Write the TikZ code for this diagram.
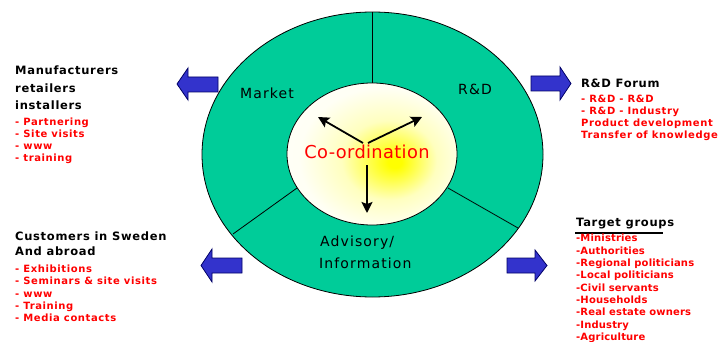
\documentclass[tikz,border=0pt]{standalone}
\usepackage{fontspec}
\usetikzlibrary{arrows.meta}
\newfontfamily\fHead[LetterSpace=6]{DejaVu Sans}
\newfontfamily\fList[LetterSpace=6]{DejaVu Sans}
\newfontfamily\fTarget[LetterSpace=1.5]{DejaVu Sans}
\newfontfamily\fLabel[LetterSpace=8]{DejaVu Sans}
\newfontfamily\fCoord[LetterSpace=2]{DejaVu Sans}
\definecolor{ringgreen}{HTML}{00CC99}
\definecolor{arrowblue}{HTML}{3333CC}
\definecolor{arrowedge}{HTML}{000066}
\pgfdeclareradialshading{coordshade}{\pgfpoint{7bp}{-3bp}}{color(0bp)=(yellow); color(2bp)=(yellow); color(14bp)=(yellow!25!white); color(25bp)=(yellow!4!white); color(50bp)=(white)}
\begin{document}
\begin{tikzpicture}[x=1pt,y=-1pt,
  blk/.style={fill=arrowblue, draw=arrowedge, line width=0.8pt, line join=miter},
  hd/.style={anchor=base west, inner sep=0pt, font=\fontsize{11.5}{14}\fHead\bfseries},
  li/.style={anchor=base west, inner sep=0pt, text=red, font=\fontsize{10}{12}\fList\bfseries},
  tg/.style={anchor=base west, inner sep=0pt, text=red, font=\fontsize{10}{12}\fTarget\bfseries},
  seg/.style={inner sep=0pt, font=\fontsize{14}{17}\fLabel},
  spoke/.style={line width=1.8pt, -{Stealth[length=11pt,width=11pt,inset=2pt]}},
  divider/.style={line width=0.8pt}]
\useasboundingbox (0,0) rectangle (720,342);
% outer ring
\fill[ringgreen] (372.5,154.5) ellipse [x radius=170.5pt, y radius=142.5pt];
\draw[line width=0.8pt] (372.5,154.5) ellipse [x radius=170.5pt, y radius=142.5pt];
% dividers
\coordinate (dTopIn) at (372,83);
\coordinate (dTopOut) at (372,12);
\coordinate (dLeftIn) at (297,188);
\coordinate (dLeftOut) at (233,234);
\coordinate (dRightIn) at (448,188);
\coordinate (dRightOut) at (518,228);
\draw[divider] (dTopIn) -- (dTopOut);
\draw[divider] (dLeftIn) -- (dLeftOut);
\draw[divider] (dRightIn) -- (dRightOut);
% inner ellipse
\shade[shading=coordshade] (372,154) ellipse [x radius=85pt, y radius=71pt];
\draw[line width=0.8pt] (372,154) ellipse [x radius=85pt, y radius=71pt];
% segment labels
\node[seg] (market) at (267,93) {Market};
\node[seg] (rd) at (475,89) {R\&D};
\node[seg, anchor=west] (adv) at (320,243) {Advisory/};
\node[seg, anchor=west] (info) at (319,263) {Information};
\node[inner sep=0pt, text=red, font=\fontsize{17.8}{20}\fCoord] (coord) at (367,152) {Co-ordination};
% spokes
\coordinate (hubL) at (363,143);
\coordinate (hubR) at (368,143);
\coordinate (hubD) at (367,165);
\coordinate (tipL) at (318,117);
\coordinate (tipR) at (422,117);
\coordinate (tipD) at (367,213);
\draw[spoke] (hubL) -- (tipL);
\draw[spoke] (hubR) -- (tipR);
\draw[spoke] (hubD) -- (tipD);
% blue arrows
\draw[blk] (177,84) -- (188,68) -- (188,77) -- (218,77) -- (218,92) -- (188,92) -- (188,100) -- cycle;
\draw[blk] (571,83.5) -- (560,67) -- (560,76) -- (531,76) -- (531,91) -- (560,91) -- (560,100) -- cycle;
\draw[blk] (201,265.5) -- (212,249) -- (212,258) -- (242,258) -- (242,273) -- (212,273) -- (212,282) -- cycle;
\draw[blk] (547,265.5) -- (535,250) -- (535,258) -- (507,258) -- (507,273) -- (535,273) -- (535,281) -- cycle;
% Manufacturers block
\node[hd] (man1) at (15,75) {Manufacturers};
\node[hd] (man2) at (15,92.5) {retailers};
\node[hd] (man3) at (15,110) {installers};
\foreach \t [count=\i] in {- Partnering, - Site visits, - www, - training}
  \node[li] (manli\i) at (15,{125.5+12*(\i-1)}) {\t};
% Customers block
\node[hd] (cus1) at (15,240) {Customers in Sweden};
\node[hd] (cus2) at (15,255) {And abroad};
\foreach \t [count=\i] in {- Exhibitions, - Seminars \& site visits, - www, - Training, - Media contacts}
  \node[li] (cusli\i) at (15,{272.3+12.35*(\i-1)}) {\t};
% R&D Forum block
\node[hd] (rdf) at (581,87.3) {R\&D Forum};
\foreach \t [count=\i] in {- R\&D - R\&D, - R\&D - Industry, Product development, Transfer of knowledge}
  \node[li] (rdli\i) at (581,{102.3+12.1*(\i-1)}) {\t};
% Target groups block
\node[hd] (tgh) at (576,226.7) {Target groups};
\draw[line width=1.8pt] (575,233) -- (663,233);
\foreach \t [count=\i] in {-Ministries, -Authorities, -Regional politicians, -Local politicians, -Civil servants, -Households, -Real estate owners, -Industry, -Agriculture}
  \node[tg] (tgli\i) at (576,{241.7+12.37*(\i-1)}) {\t};
\end{tikzpicture}
\end{document}
